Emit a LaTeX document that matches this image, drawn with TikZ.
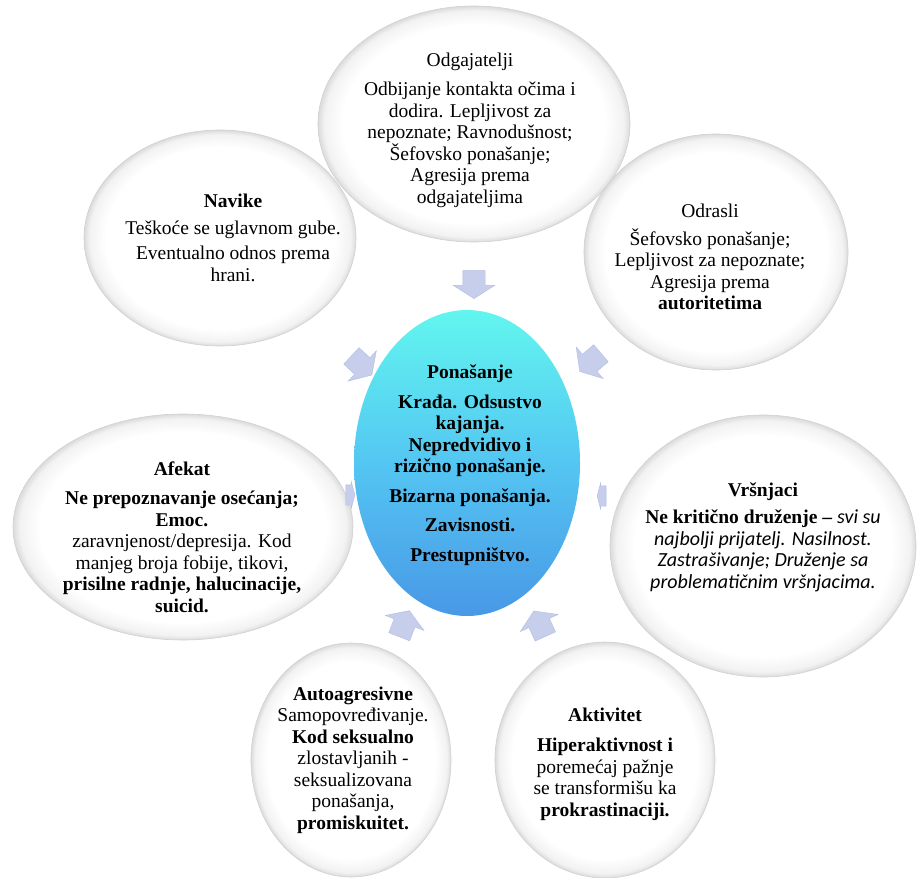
\documentclass[tikz,border=0pt]{standalone}
\usepackage{fontspec}
\setmainfont{Liberation Serif}
\newfontfamily\calib{Carlito}
\usetikzlibrary{shapes.geometric,shapes.arrows}
\definecolor{arrowfill}{HTML}{C6CEEC}
\definecolor{arrowedge}{HTML}{B2BCE2}
\definecolor{rim}{HTML}{D0D0D6}
\definecolor{ctop}{HTML}{62F6EF}
\definecolor{cmid}{HTML}{54C6F2}
\definecolor{cbot}{HTML}{4898E6}
\pgfdeclareradialshading{bubble}{\pgfpoint{0bp}{0bp}}{color(0bp)=(white); color(21bp)=(white); color(24bp)=(black!5); color(25bp)=(black!14); color(50bp)=(black!14)}
\newcommand{\ital}[1]{{\calib\itshape\fontsize{20}{21.5}\selectfont #1}}
\begin{document}
\begin{tikzpicture}[x=1pt,y=-1pt,
  bubble/.style={ellipse, shading=bubble, draw=rim, line width=0.6pt, inner sep=0pt},
  core/.style={ellipse, top color=ctop, bottom color=cbot, middle color=cmid, draw=none, inner sep=0pt},
  txt/.style={align=center, inner sep=0pt, font=\fontsize{19.5}{21.5}\selectfont},
  blockarrow/.style={single arrow, single arrow head extend=9.5pt, single arrow tip angle=115, inner xsep=0pt, inner ysep=11pt, minimum width=0pt, minimum height=28pt, fill=arrowfill, draw=arrowedge, line width=0.4pt},
  sliver/.style={single arrow, single arrow head extend=3pt, single arrow tip angle=150, inner xsep=0pt, inner ysep=10pt, minimum width=0pt, minimum height=9pt, fill=arrowfill, draw=arrowedge, line width=0.4pt}
]
\useasboundingbox (0,0) rectangle (917,877);
% outer bubbles
\node[bubble, minimum width=272pt, minimum height=216pt] (navE) at (220,238) {};
\node[bubble, minimum width=264pt, minimum height=236pt] (odrE) at (716,252) {};
\node[bubble, minimum width=312pt, minimum height=236pt] (odgE) at (474,124) {};
\node[bubble, minimum width=340pt, minimum height=226pt] (afeE) at (183,527) {};
\node[bubble, minimum width=306pt, minimum height=262pt] (vrsE) at (763,546) {};
\node[bubble, minimum width=200pt, minimum height=234pt] (autE) at (351,760) {};
\node[bubble, minimum width=220pt, minimum height=236pt] (aktE) at (605,760) {};
% centre
\node[core, minimum width=226pt, minimum height=306pt] (cenE) at (467,463) {};
% arrows
\node[blockarrow, rotate=-90] (aTop) at (474,281) {};
\node[blockarrow, rotate=-43] (aUL) at (359,363) {};
\node[blockarrow, rotate=-139.5] (aUR) at (593,360) {};
\node[blockarrow, rotate=68.7] (aLL) at (403,627) {};
\node[blockarrow, rotate=114.3] (aLR) at (541,627) {};
\node[sliver, rotate=0] (aL) at (349,495) {};
\node[sliver, rotate=180] (aR) at (603,496) {};
% texts
\node[txt] (odgT) at (470,130) {Odgajatelji\\[8pt]Odbijanje kontakta očima i\\dodira. Lepljivost za\\nepoznate; Ravnodušnost;\\Šefovsko ponašanje;\\Agresija prema\\odgajateljima};
\node[txt] (navT) at (233,238) {\textbf{Navike}\\[5pt]Teškoće se uglavnom gube.\\[4pt]Eventualno odnos prema\\hrani.};
\node[txt] (odrT) at (710,257) {Odrasli\\[6pt]Šefovsko ponašanje;\\Lepljivost za nepoznate;\\Agresija prema\\\textbf{autoritetima}};
\node[txt, font=\bfseries\fontsize{19.5}{21.5}\selectfont] (cenT) at (470,465) {Ponašanje\\[8pt]Krađa. Odsustvo\\kajanja.\\Nepredvidivo i\\rizično ponašanje.\\[8pt]Bizarna ponašanja.\\[8pt]Zavisnosti.\\[8pt]Prestupništvo.};
\node[txt] (afeT) at (182,537) {\textbf{Afekat}\\[8pt]\textbf{Ne prepoznavanje osećanja;}\\\textbf{Emoc.}\\zaravnjenost/depresija. Kod\\manjeg broja fobije, tikovi,\\\textbf{prisilne radnje, halucinacije,}\\\textbf{suicid.}};
\node[txt] (vrsT) at (763,537) {\textbf{Vršnjaci}\\[6pt]\textbf{Ne kritično druženje –} \ital{svi su}\\\ital{najbolji prijatelj. Nasilnost.}\\\ital{Zastrašivanje; Druženje sa}\\\ital{problematičnim vršnjacima.}};
\node[txt] (autT) at (353,760) {\textbf{Autoagresivne}\\Samopovređivanje.\\\textbf{Kod seksualno}\\zlostavljanih -\\seksualizovana\\ponašanja,\\\textbf{promiskuitet.}};
\node[txt] (aktT) at (605,764) {\textbf{Aktivitet}\\[9pt]\textbf{Hiperaktivnost i}\\poremećaj pažnje\\se transformišu ka\\\textbf{prokrastinaciji.}};
\end{tikzpicture}
\end{document}
